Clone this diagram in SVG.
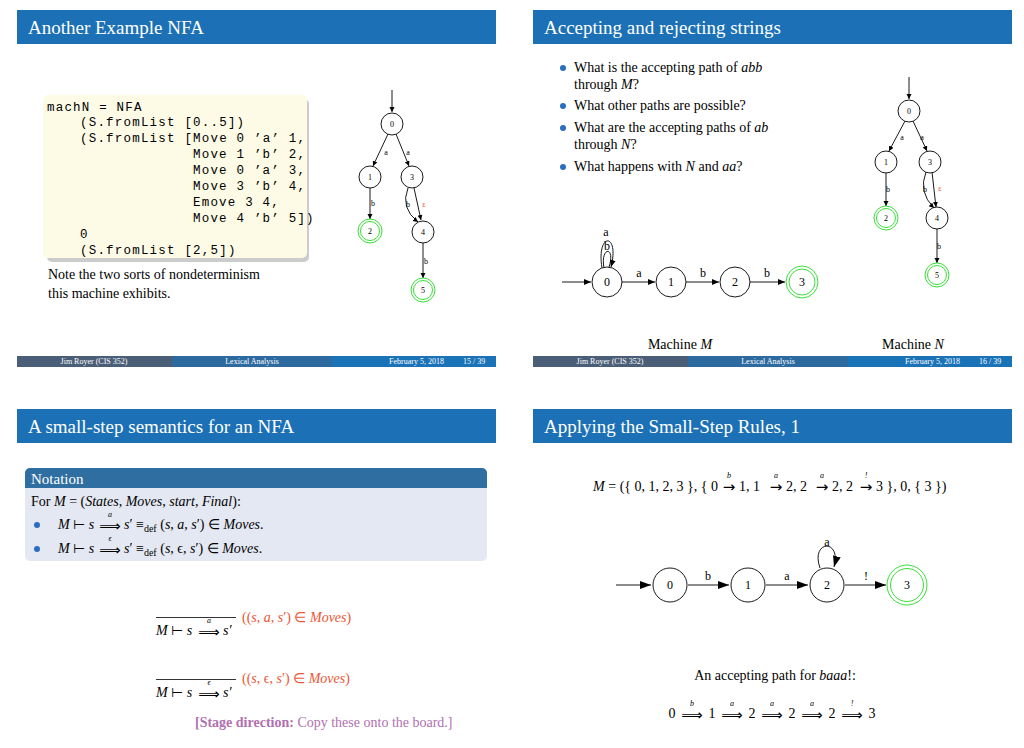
<svg xmlns="http://www.w3.org/2000/svg" width="1024" height="748" viewBox="0 0 1024 748">
<style>
.hdr{fill:#1c70b5}
.ttl{font-family:"Liberation Serif",serif;font-size:19px;fill:#fff}
.f1{fill:#4b5e78}.f2{fill:#2c6aa0}.f3{fill:#1a72b7}
.ft{font-family:"Liberation Serif",serif;font-size:8px;fill:#fff}
.t{font-family:"Liberation Serif",serif;font-size:14px;fill:#000}
.it{font-style:italic}
.code{font-family:"Liberation Mono",monospace;font-size:12.5px;letter-spacing:1.2px;fill:#000}
.n{fill:#fff;stroke:#000;stroke-width:0.9}
.acc{fill:#fff;stroke:#22dd22;stroke-width:0.9}
.e{fill:none;stroke:#000;stroke-width:0.9}
.sl{font-family:"Liberation Serif",serif;font-size:8px;fill:#000;text-anchor:middle}
.ml{font-family:"Liberation Serif",serif;font-size:12px;fill:#000;text-anchor:middle}
.lb{font-family:"Liberation Serif",serif;font-size:8px;font-style:italic;fill:#000;text-anchor:middle}
.ar{font-family:"DejaVu Sans",sans-serif;font-size:15px;fill:#000;text-anchor:middle}
.red{fill:#ee5533}
.bul{fill:#2a6fbf}
</style>
<defs>
<marker id="ah" markerWidth="8" markerHeight="8" refX="7" refY="3" orient="auto" markerUnits="userSpaceOnUse"><path d="M0,0L7,3L0,6z" fill="#000"/></marker>
<marker id="ahs" markerWidth="6" markerHeight="6" refX="5" refY="2.5" orient="auto" markerUnits="userSpaceOnUse"><path d="M0,0L5,2.5L0,5z" fill="#000"/></marker>
<marker id="ahb" markerWidth="12" markerHeight="10" refX="11" refY="4" orient="auto" markerUnits="userSpaceOnUse"><path d="M0,0L11,4L0,8z" fill="#000"/></marker>
</defs>

<!-- Slide 1 -->
<g id="slide1">
<rect class="hdr" x="17" y="10" width="479" height="34"/>
<text class="ttl" x="28" y="34">Another Example NFA</text>
<rect x="47" y="99" width="262" height="163" rx="5" fill="#999" opacity="0.5"/>
<rect x="43" y="95" width="264" height="163" rx="5" fill="#fdfbe6"/>
<text class="code" x="47" y="111">machN = NFA</text>
<text class="code" x="80" y="126">(S.fromList [0..5])</text>
<text class="code" x="80" y="142">(S.fromList [Move 0 ’a’ 1,</text>
<text class="code" x="193" y="158">Move 1 ’b’ 2,</text>
<text class="code" x="193" y="174">Move 0 ’a’ 3,</text>
<text class="code" x="193" y="190">Move 3 ’b’ 4,</text>
<text class="code" x="193" y="206">Emove 3 4,</text>
<text class="code" x="193" y="222">Move 4 ’b’ 5])</text>
<text class="code" x="80" y="238">0</text>
<text class="code" x="80" y="254">(S.fromList [2,5])</text>
<text class="t" x="48" y="279">Note the two sorts of nondeterminism</text>
<text class="t" x="48" y="298">this machine exhibits.</text>
<rect class="f1" x="17" y="356" width="155" height="11"/><rect class="f2" x="172" y="356" width="160" height="11"/><rect class="f3" x="332" y="356" width="164" height="11"/>
<text class="ft" x="94" y="364" text-anchor="middle">Jim Royer  (CIS 352)</text>
<text class="ft" x="252" y="364" text-anchor="middle">Lexical Analysis</text>
<text class="ft" x="389" y="364">February 5, 2018</text>
<text class="ft" x="463" y="364">15 / 39</text>
</g>
<g id="edges1">
<line class="e" x1="392" y1="90" x2="392" y2="112" marker-end="url(#ahs)"/>
<line class="e" x1="388" y1="134" x2="373" y2="166" marker-end="url(#ahs)"/>
<line class="e" x1="396" y1="134" x2="409" y2="166" marker-end="url(#ahs)"/>
<line class="e" x1="370" y1="188" x2="370" y2="219" marker-end="url(#ahs)"/>
<path class="e" d="M408,188 Q400,208 418,222" marker-end="url(#ahs)"/>
<line class="e" x1="414" y1="188" x2="421" y2="220" marker-end="url(#ahs)"/>
<line class="e" x1="423" y1="243" x2="423" y2="278" marker-end="url(#ahs)"/>
<text class="sl" x="386" y="155">a</text><text class="sl" x="408" y="155">a</text>
<text class="sl" x="373" y="206">b</text><text class="sl" x="408" y="207">b</text>
<text class="sl red" x="424" y="207">ε</text><text class="sl" x="426" y="264">b</text>
</g>
<g id="n1_0"><circle class="n" cx="392" cy="124" r="11"/><text class="sl" x="392" y="127">0</text></g>
<g id="n1_1"><circle class="n" cx="370" cy="177" r="11"/><text class="sl" x="370" y="180">1</text></g>
<g id="n1_3"><circle class="n" cx="412" cy="177" r="11"/><text class="sl" x="412" y="180">3</text></g>
<g id="n1_2"><circle class="acc" cx="370" cy="231" r="12"/><circle class="acc" cx="370" cy="231" r="9.5"/><text class="sl" x="370" y="234">2</text></g>
<g id="n1_4"><circle class="n" cx="423" cy="232" r="11"/><text class="sl" x="423" y="235">4</text></g>
<g id="n1_5"><circle class="acc" cx="423" cy="290" r="12"/><circle class="acc" cx="423" cy="290" r="9.5"/><text class="sl" x="423" y="293">5</text></g>

<!-- Slide 2 -->
<g id="slide2">
<rect class="hdr" x="533" y="10" width="479" height="34"/>
<text class="ttl" x="544" y="34">Accepting and rejecting strings</text>
<circle class="bul" cx="563" cy="68" r="3"/>
<text class="t" x="574" y="72">What is the accepting path of <tspan class="it">abb</tspan></text>
<text class="t" x="574" y="89">through <tspan class="it">M</tspan>?</text>
<circle class="bul" cx="563" cy="106" r="3"/>
<text class="t" x="574" y="110">What other paths are possible?</text>
<circle class="bul" cx="563" cy="128" r="3"/>
<text class="t" x="574" y="132">What are the accepting paths of <tspan class="it">ab</tspan></text>
<text class="t" x="574" y="149">through <tspan class="it">N</tspan>?</text>
<circle class="bul" cx="563" cy="167" r="3"/>
<text class="t" x="574" y="171">What happens with <tspan class="it">N</tspan> and <tspan class="it">aa</tspan>?</text>
<text class="t" x="680" y="349" text-anchor="middle">Machine <tspan class="it">M</tspan></text>
<text class="t" x="913" y="349" text-anchor="middle">Machine <tspan class="it">N</tspan></text>
<rect class="f1" x="533" y="356" width="155" height="11"/><rect class="f2" x="688" y="356" width="160" height="11"/><rect class="f3" x="848" y="356" width="164" height="11"/>
<text class="ft" x="610" y="364" text-anchor="middle">Jim Royer  (CIS 352)</text>
<text class="ft" x="768" y="364" text-anchor="middle">Lexical Analysis</text>
<text class="ft" x="905" y="364">February 5, 2018</text>
<text class="ft" x="979" y="364">16 / 39</text>
</g>
<g id="edges2">
<line class="e" x1="562" y1="282" x2="591" y2="282" marker-end="url(#ah)"/>
<line class="e" x1="622" y1="282" x2="655" y2="282" marker-end="url(#ah)"/>
<line class="e" x1="686" y1="282" x2="719" y2="282" marker-end="url(#ah)"/>
<line class="e" x1="750" y1="282" x2="785" y2="282" marker-end="url(#ah)"/>
<path class="e" d="M602,268 C596,232 620,232 611,267" marker-end="url(#ah)"/>
<path class="e" d="M604,268 C600,246 616,246 609,267"/>
<text class="ml" x="606" y="236">a</text><text class="ml" x="607" y="250">b</text>
<text class="ml" x="639" y="277">a</text><text class="ml" x="703" y="277">b</text><text class="ml" x="767" y="277">b</text>
<line class="e" x1="909" y1="77" x2="909" y2="99" marker-end="url(#ahs)"/>
<line class="e" x1="905" y1="121" x2="889" y2="151" marker-end="url(#ahs)"/>
<line class="e" x1="913" y1="121" x2="927" y2="151" marker-end="url(#ahs)"/>
<line class="e" x1="886" y1="172" x2="886" y2="206" marker-end="url(#ahs)"/>
<path class="e" d="M926,172 Q918,192 934,208" marker-end="url(#ahs)"/>
<line class="e" x1="932" y1="172" x2="936" y2="207" marker-end="url(#ahs)"/>
<line class="e" x1="937" y1="228" x2="937" y2="263" marker-end="url(#ahs)"/>
<text class="sl" x="902" y="140">a</text><text class="sl" x="922" y="140">a</text>
<text class="sl" x="888" y="192">b</text><text class="sl" x="925" y="192">b</text>
<text class="sl red" x="940" y="191">ε</text><text class="sl" x="939" y="249">b</text>
</g>
<g id="m_0"><circle class="n" cx="607" cy="282" r="15"/><text class="ml" x="607" y="286">0</text></g>
<g id="m_1"><circle class="n" cx="671" cy="282" r="15"/><text class="ml" x="671" y="286">1</text></g>
<g id="m_2"><circle class="n" cx="735" cy="282" r="15"/><text class="ml" x="735" y="286">2</text></g>
<g id="m_3"><circle class="acc" cx="802" cy="282" r="16"/><circle class="acc" cx="802" cy="282" r="13"/><text class="ml" x="802" y="286">3</text></g>
<g id="n2_0"><circle class="n" cx="909" cy="111" r="11"/><text class="sl" x="909" y="114">0</text></g>
<g id="n2_1"><circle class="n" cx="886" cy="162" r="11"/><text class="sl" x="886" y="165">1</text></g>
<g id="n2_3"><circle class="n" cx="930" cy="162" r="11"/><text class="sl" x="930" y="165">3</text></g>
<g id="n2_2"><circle class="acc" cx="886" cy="218" r="12"/><circle class="acc" cx="886" cy="218" r="9.5"/><text class="sl" x="886" y="221">2</text></g>
<g id="n2_4"><circle class="n" cx="937" cy="218" r="11"/><text class="sl" x="937" y="221">4</text></g>
<g id="n2_5"><circle class="acc" cx="937" cy="275" r="12"/><circle class="acc" cx="937" cy="275" r="9.5"/><text class="sl" x="937" y="278">5</text></g>

<!-- Slide 3 -->
<g id="slide3">
<rect class="hdr" x="17" y="409" width="479" height="34"/>
<text class="ttl" x="28" y="433">A small-step semantics for an NFA</text>
<rect x="25" y="468" width="462" height="93" rx="5" fill="#e4e8f2"/>
<path d="M25,488 V473 a5,5 0 0 1 5,-5 H482 a5,5 0 0 1 5,5 V488 z" fill="#2f6ea0"/>
<text x="31" y="484" font-family="Liberation Serif,serif" font-size="15" fill="#fff">Notation</text>
<text class="t" x="31" y="506">For <tspan class="it">M</tspan> = (<tspan class="it">States</tspan>, <tspan class="it">Moves</tspan>, <tspan class="it">start</tspan>, <tspan class="it">Final</tspan>):</text>
<circle class="bul" cx="37" cy="525" r="3"/>
<text class="t" x="58" y="529"><tspan class="it">M</tspan> ⊢ <tspan class="it">s</tspan></text>
<text class="ar" x="110" y="531">⟹</text><text class="lb" x="110" y="517">a</text>
<text class="t" x="124" y="529"><tspan class="it">s</tspan>′  ≡<tspan font-size="10" dy="3">def</tspan><tspan dy="-3">  (</tspan><tspan class="it">s</tspan>, <tspan class="it">a</tspan>, <tspan class="it">s</tspan>′) ∈ <tspan class="it">Moves</tspan>.</text>
<circle class="bul" cx="37" cy="549" r="3"/>
<text class="t" x="58" y="553"><tspan class="it">M</tspan> ⊢ <tspan class="it">s</tspan></text>
<text class="ar" x="110" y="555">⟹</text><text class="lb" x="110" y="541">ϵ</text>
<text class="t" x="124" y="553"><tspan class="it">s</tspan>′  ≡<tspan font-size="10" dy="3">def</tspan><tspan dy="-3">  (</tspan><tspan class="it">s</tspan>, ϵ, <tspan class="it">s</tspan>′) ∈ <tspan class="it">Moves</tspan>.</text>
<line x1="156" y1="617.5" x2="236" y2="617.5" stroke="#000" stroke-width="0.8"/>
<text class="t" x="156" y="635"><tspan class="it">M</tspan> ⊢ <tspan class="it">s</tspan></text>
<text class="ar" x="209" y="637">⟹</text><text class="lb" x="209" y="623">a</text>
<text class="t it" x="223" y="635">s′</text>
<text class="t red" x="242" y="622">((<tspan class="it">s</tspan>, <tspan class="it">a</tspan>, <tspan class="it">s</tspan>′) ∈ <tspan class="it">Moves</tspan>)</text>
<line x1="156" y1="679.5" x2="236" y2="679.5" stroke="#000" stroke-width="0.8"/>
<text class="t" x="156" y="697"><tspan class="it">M</tspan> ⊢ <tspan class="it">s</tspan></text>
<text class="ar" x="209" y="699">⟹</text><text class="lb" x="209" y="685">ϵ</text>
<text class="t it" x="223" y="697">s′</text>
<text class="t red" x="242" y="683">((<tspan class="it">s</tspan>, ϵ, <tspan class="it">s</tspan>′) ∈ <tspan class="it">Moves</tspan>)</text>
<text class="t" x="195" y="727" style="fill:#b070b0"><tspan font-weight="bold">[Stage direction:</tspan> Copy these onto the board.]</text>
</g>

<!-- Slide 4 -->
<g id="slide4">
<rect class="hdr" x="533" y="409" width="479" height="34"/>
<text class="ttl" x="544" y="433">Applying the Small-Step Rules, 1</text>
<text class="t" x="718" y="491" text-anchor="end"><tspan class="it">M</tspan> = ({ 0, 1, 2, 3 }, { 0</text>
<text class="ar" x="729" y="492">→</text><text class="lb" x="729" y="478">b</text>
<text class="t" x="739" y="491">1, 1</text>
<text class="ar" x="776" y="492">→</text><text class="lb" x="776" y="478">a</text>
<text class="t" x="786" y="491">2, 2</text>
<text class="ar" x="822" y="492">→</text><text class="lb" x="822" y="478">a</text>
<text class="t" x="832" y="491">2, 2</text>
<text class="ar" x="866" y="492">→</text><text class="lb" x="866" y="478">!</text>
<text class="t" x="876" y="491">3 }, 0, { 3 })</text>
<text class="t" x="775" y="680" text-anchor="middle">An accepting path for <tspan class="it">baaa</tspan>!:</text>
<text class="t" x="672" y="718" text-anchor="middle">0</text>
<text class="ar" x="692" y="720">⟹</text><text class="lb" x="692" y="706">b</text>
<text class="t" x="712" y="718" text-anchor="middle">1</text>
<text class="ar" x="732" y="720">⟹</text><text class="lb" x="732" y="706">a</text>
<text class="t" x="752" y="718" text-anchor="middle">2</text>
<text class="ar" x="772" y="720">⟹</text><text class="lb" x="772" y="706">a</text>
<text class="t" x="792" y="718" text-anchor="middle">2</text>
<text class="ar" x="812" y="720">⟹</text><text class="lb" x="812" y="706">a</text>
<text class="t" x="832" y="718" text-anchor="middle">2</text>
<text class="ar" x="852" y="720">⟹</text><text class="lb" x="852" y="706">!</text>
<text class="t" x="872" y="718" text-anchor="middle">3</text>
</g>
<g id="edges4">
<line class="e" x1="616" y1="585" x2="651" y2="585" marker-end="url(#ahb)"/>
<line class="e" x1="688" y1="585" x2="729" y2="585" marker-end="url(#ahb)"/>
<line class="e" x1="766" y1="585" x2="808" y2="585" marker-end="url(#ahb)"/>
<line class="e" x1="845" y1="585" x2="886" y2="585" marker-end="url(#ahb)"/>
<path class="e" d="M820,568 C810,540 842,538 834,567" marker-end="url(#ahb)"/>
<text class="ml" x="708" y="580">b</text><text class="ml" x="787" y="580">a</text>
<text class="ml" x="866" y="580">!</text><text class="ml" x="827" y="546">a</text>
</g>
<g id="b_0"><circle class="n" cx="670" cy="585" r="17"/><text class="ml" x="670" y="589">0</text></g>
<g id="b_1"><circle class="n" cx="748" cy="585" r="17"/><text class="ml" x="748" y="589">1</text></g>
<g id="b_2"><circle class="n" cx="827" cy="585" r="17"/><text class="ml" x="827" y="589">2</text></g>
<g id="b_3"><circle class="acc" cx="907" cy="585" r="20"/><circle class="acc" cx="907" cy="585" r="16.5"/><text class="ml" x="907" y="589">3</text></g>
</svg>
